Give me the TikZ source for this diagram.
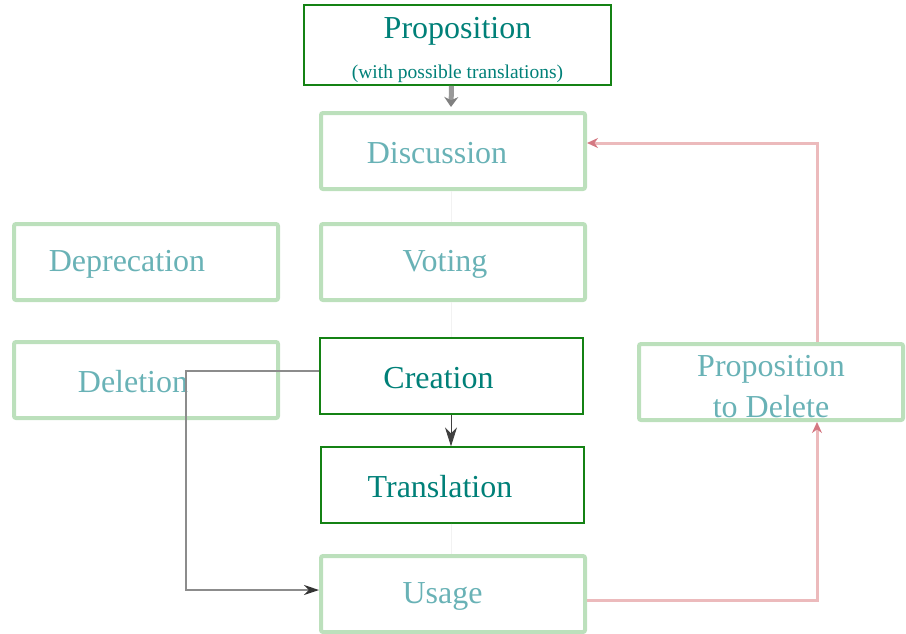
\documentclass[tikz,border=0pt]{standalone}
\usepackage{fontspec}
\setmainfont{Liberation Serif}
\usetikzlibrary{arrows.meta}

\definecolor{boxgreen}{RGB}{20,130,20}
\definecolor{textteal}{RGB}{0,128,120}
\definecolor{fadegreen}{RGB}{188,224,188}
\definecolor{fadeteal}{RGB}{105,178,182}
\definecolor{fadered}{RGB}{236,186,188}
\definecolor{tipred}{RGB}{212,120,130}

\begin{document}
\begin{tikzpicture}[x=1pt,y=-1pt,
  stage/.style={draw=boxgreen,line width=1.3pt,text=textteal,
    minimum width=263pt,minimum height=76pt,inner sep=0pt,
    font=\fontsize{32}{39}\selectfont,align=center},
  single/.style={text height=25pt},
  ghost/.style={stage,draw=fadegreen,line width=4pt,text=fadeteal,
    rounded corners=2pt,minimum width=264pt},
  pad/.style={execute at end node={\hspace*{#1}}},
  flow/.style={draw=black!75,line width=0.9pt,-{Stealth[length=19pt,width=12pt,inset=6pt]}},
  back/.style={draw=black!45,line width=2pt,-{Stealth[length=15pt,width=10pt,color=black!80]}},
  blob/.style={draw=black!40,line width=5pt,-{Stealth[length=10pt,width=14pt,color=black!50]}},
  drop/.style={draw=fadered,line width=3pt,-{Stealth[length=11pt,width=10pt,color=tipred]}},
  trace/.style={draw=black!5,line width=0.6pt}]
  \useasboundingbox (0,0) rectangle (906,633);
  % top of the life cycle
  \node[stage,line width=1.6pt,minimum width=307pt,minimum height=80pt] (prop) at (457.5,45)
    {\rule{0pt}{31pt}Proposition\\[1pt]{\fontsize{19.5}{20}\selectfont (with possible translations)}};
  \node[ghost,single,pad=32pt] (disc) at (453,151){Discussion};
  \node[ghost,single,pad=16pt] (vote) at (453,262){Voting};
  \node[ghost,single,pad=38pt] (depr) at (146,262){Deprecation};
  \node[ghost,single,pad=26pt] (dele) at (146,380){Deletion};
  \node[stage,single,pad=26pt] (crea) at (451.5,376){Creation};
  \node[stage,single,pad=25pt] (tran) at (452.5,485){Translation};
  \node[ghost,single,pad=21pt] (usag) at (453,594){Usage};
  \node[ghost] (pdel) at (771,382){\rule{0pt}{31pt}Proposition\\[2pt]to Delete};
  % faint traces between the middle boxes
  \path[trace] ([xshift=-2pt]disc.south) -- ([xshift=-2pt]vote.north);
  \path[trace] ([xshift=-2pt]vote.south) -- ([xshift=-0.5pt]crea.north);
  \path[trace] ([xshift=-1.5pt]tran.south) -- ([xshift=-2pt]usag.north);
  % connectors
  \path[blob] ([xshift=-6pt]prop.south) -- ([xshift=-2pt,yshift=4pt]disc.north);
  \path[flow] ([xshift=-0.5pt]crea.south) -- ([xshift=-1.5pt]tran.north);
  \path[back] ([yshift=5pt]crea.west) -| (186,500) |- ([yshift=4pt]usag.west);
  \path[drop] ([yshift=-6pt]usag.east) -| ([xshift=46pt]pdel.south);
  \path[drop] ([xshift=46pt]pdel.north) |- ([yshift=8pt]disc.east);
\end{tikzpicture}
\end{document}
